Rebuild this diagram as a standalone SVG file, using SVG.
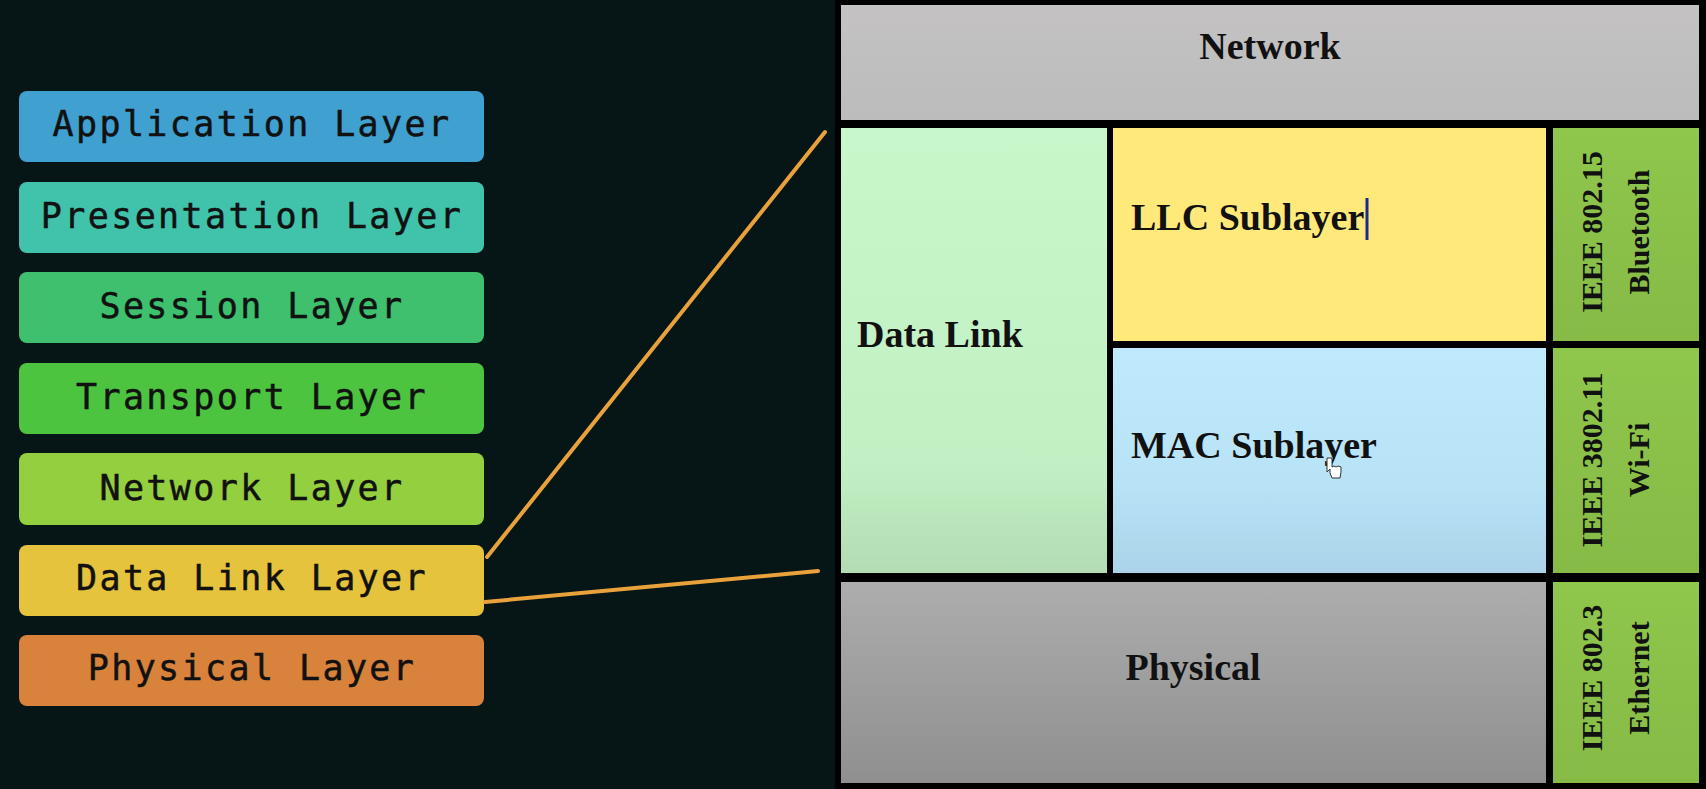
<svg xmlns="http://www.w3.org/2000/svg" width="1706" height="789" viewBox="0 0 1706 789">
  <defs>
    <style>
      .osi rect { stroke: none; }
      .osi text { font-family: "DejaVu Sans Mono", "Liberation Mono", monospace; font-size: 35px; letter-spacing: 2.4px; fill: #111; stroke: #111; stroke-width: 0.5px; text-anchor: middle; }
      .blk text { font-family: "Liberation Serif", "Times New Roman", serif; font-weight: bold; font-size: 38px; fill: #111; }
      .std text { font-family: "Liberation Serif", "Times New Roman", serif; font-weight: bold; font-size: 30px; fill: #111; text-anchor: middle; }
      .conn line { stroke: #e9a23b; stroke-width: 4; stroke-linecap: round; }
    </style>
    <linearGradient id="gDL" x1="0" y1="0" x2="0" y2="1">
      <stop offset="0" stop-color="#c7f7ca"/>
      <stop offset="0.75" stop-color="#c2f0c4"/>
      <stop offset="1" stop-color="#b3dcb2"/>
    </linearGradient>
    <linearGradient id="gMAC" x1="0" y1="0" x2="0" y2="1">
      <stop offset="0" stop-color="#bfeafd"/>
      <stop offset="0.6" stop-color="#b8e3f7"/>
      <stop offset="1" stop-color="#abd3e9"/>
    </linearGradient>
    <linearGradient id="gPhy" x1="0" y1="0" x2="0" y2="1">
      <stop offset="0" stop-color="#adadad"/>
      <stop offset="1" stop-color="#8f8f8f"/>
    </linearGradient>
    <linearGradient id="gNet" x1="0" y1="0" x2="0" y2="1">
      <stop offset="0" stop-color="#c4c2c2"/>
      <stop offset="1" stop-color="#bcbcbc"/>
    </linearGradient>
    <linearGradient id="gGreen" x1="0" y1="0" x2="0" y2="1">
      <stop offset="0" stop-color="#8fc64c"/>
      <stop offset="1" stop-color="#86bb46"/>
    </linearGradient>
  </defs>

  <!-- backgrounds -->
  <rect x="0" y="0" width="1706" height="789" fill="#061515"/>
  <rect x="835" y="0" width="871" height="789" fill="#000"/>

  <!-- OSI stack -->
  <g id="application-layer" class="osi">
    <rect x="19" y="91" width="465" height="71" rx="8" fill="#40a0d0"/>
    <text x="252" y="136">Application Layer</text>
  </g>
  <g id="presentation-layer" class="osi">
    <rect x="19" y="182" width="465" height="71" rx="8" fill="#40c2ab"/>
    <text x="252" y="228">Presentation Layer</text>
  </g>
  <g id="session-layer" class="osi">
    <rect x="19" y="272" width="465" height="71" rx="8" fill="#3ec06e"/>
    <text x="252" y="318">Session Layer</text>
  </g>
  <g id="transport-layer" class="osi">
    <rect x="19" y="363" width="465" height="71" rx="8" fill="#4cc43f"/>
    <text x="252" y="409">Transport Layer</text>
  </g>
  <g id="network-layer" class="osi">
    <rect x="19" y="453" width="465" height="72" rx="8" fill="#93cf3f"/>
    <text x="252" y="500">Network Layer</text>
  </g>
  <g id="datalink-layer" class="osi">
    <rect x="19" y="545" width="465" height="71" rx="8" fill="#e6c33c"/>
    <text x="252" y="590">Data Link Layer</text>
  </g>
  <g id="physical-layer" class="osi">
    <rect x="19" y="635" width="465" height="71" rx="8" fill="#d8823b"/>
    <text x="252" y="680">Physical Layer</text>
  </g>

  <!-- connectors -->
  <g id="connectors" class="conn">
    <line x1="487" y1="557" x2="825" y2="132"/>
    <line x1="485" y1="602" x2="818" y2="571"/>
  </g>

  <!-- right detail -->
  <g id="network" class="blk">
    <rect x="841" y="5" width="858" height="115" fill="url(#gNet)"/>
    <text x="1270" y="59" text-anchor="middle">Network</text>
  </g>
  <g id="data-link" class="blk">
    <rect x="841" y="128" width="266" height="445" fill="url(#gDL)"/>
    <text x="857" y="347">Data Link</text>
  </g>
  <g id="llc-sublayer" class="blk">
    <rect x="1113" y="128" width="433" height="213" fill="#ffe97a"/>
    <text x="1131" y="230">LLC Sublayer</text>
    <line x1="1367" y1="198" x2="1367" y2="240" stroke="#1c2a8c" stroke-width="3"/>
  </g>
  <g id="mac-sublayer" class="blk">
    <rect x="1113" y="348" width="433" height="225" fill="url(#gMAC)"/>
    <text x="1131" y="458">MAC Sublayer</text>
    <path d="M1327 458 l0 14 l3 -3 l0 4 l2 5 l8 0 l1 -6 l0 -5 l-3 -1 l-2 1 l-2 -1 l-2 1 l0 -9 z" fill="#fff" stroke="#333" stroke-width="1"/>
  </g>
  <g id="physical" class="blk">
    <rect x="841" y="582" width="705" height="201" fill="url(#gPhy)"/>
    <text x="1193" y="680" text-anchor="middle">Physical</text>
  </g>
  <g id="bluetooth" class="std">
    <rect x="1553" y="128" width="146" height="213" fill="url(#gGreen)"/>
    <text transform="translate(1602 232) rotate(-90)">IEEE 802.15</text>
    <text transform="translate(1649 232) rotate(-90)">Bluetooth</text>
  </g>
  <g id="wifi" class="std">
    <rect x="1553" y="348" width="146" height="225" fill="url(#gGreen)"/>
    <text transform="translate(1602 460) rotate(-90)">IEEE 3802.11</text>
    <text transform="translate(1649 460) rotate(-90)">Wi-Fi</text>
  </g>
  <g id="ethernet" class="std">
    <rect x="1553" y="582" width="146" height="201" fill="url(#gGreen)"/>
    <text transform="translate(1602 678) rotate(-90)">IEEE 802.3</text>
    <text transform="translate(1649 678) rotate(-90)">Ethernet</text>
  </g>
</svg>
